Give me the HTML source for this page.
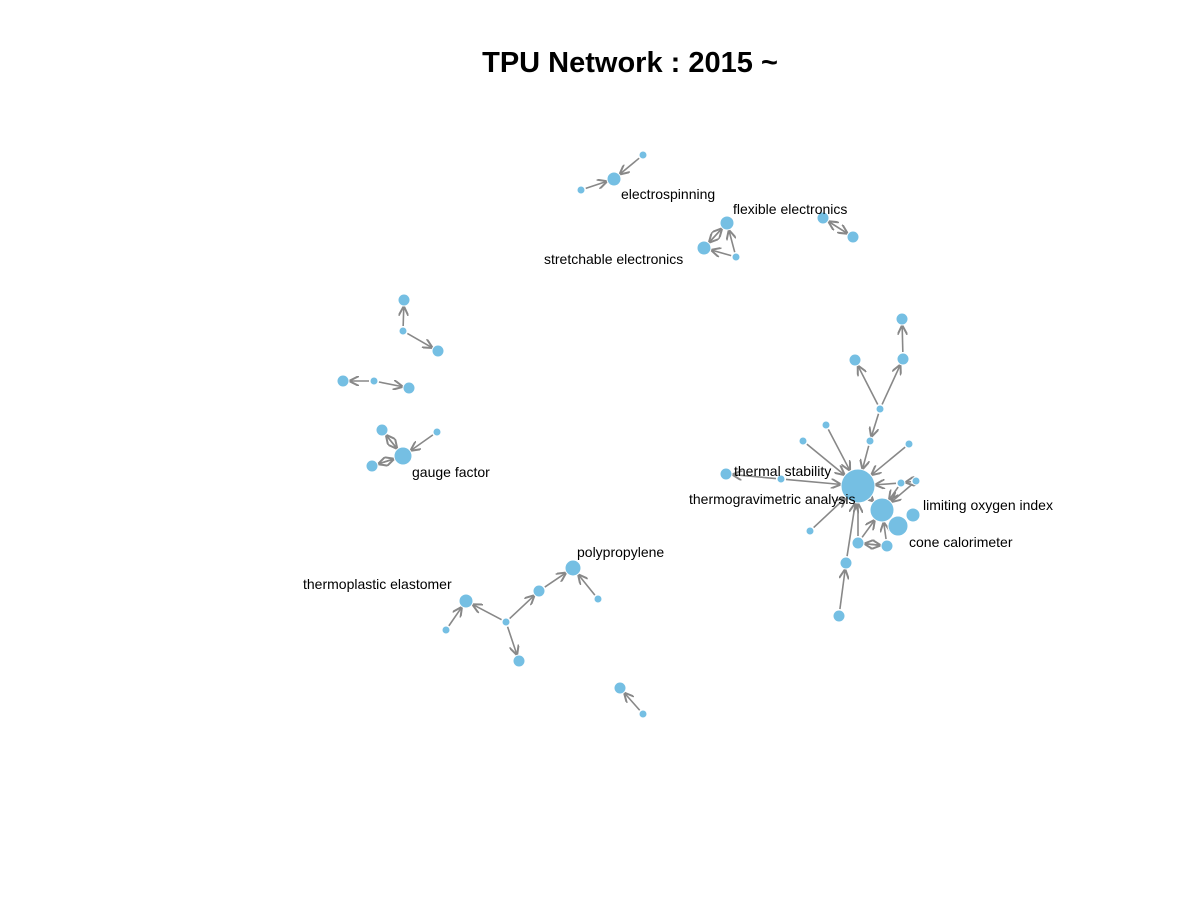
<!DOCTYPE html>
<html><head><meta charset="utf-8"><style>
body{margin:0;background:#fff;font-family:"Liberation Sans",Arial,sans-serif}
</style></head><body>
<svg id="chart" width="1200" height="900" xmlns="http://www.w3.org/2000/svg">
<text x="630" y="72" text-anchor="middle" font-size="29" font-weight="bold" font-family="Liberation Sans, sans-serif">TPU Network : 2015 ~</text>
<defs><marker id="ah" viewBox="0 0 10 10" refX="9" refY="5" markerWidth="10" markerHeight="10" orient="auto-start-reverse" markerUnits="userSpaceOnUse"><path d="M0,0 L10,5 L0,10" fill="none" stroke="#888" stroke-width="2"/></marker></defs>
<g id="edges"></g><g id="nodes"></g><g id="labels"></g>
</svg>
<script>
const nodeIds=["tga","n1","n2","n3","n4","n5","n6","n7","n8","n9","n10","n11","n12","n13","n14","n15","n16","n17","n18","n19","n20",
"es","es1","es2","flex","str","fs","p1","p2","a0","a1","a2","b0","b1","b2","gf","g1","g2","g3","pp","tpe","c0","c1","c2","c3","c4","d0","d1"];
const nodeX=[858,882,898,913,858,887,901,916,909,870,826,803,781,726,810,846,839,880,855,903,902,614,581,643,727,704,736,823,853,404,403,438,374,343,409,403,382,372,437,573,466,506,539,519,598,446,620,643];
const nodeY=[486,510,526,515,543,546,483,481,444,441,425,441,479,474,531,563,616,409,360,359,319,179,190,155,223,248,257,218,237,300,331,351,381,381,388,456,430,466,432,568,601,622,591,661,599,630,688,714];
const nodeR=[17,12,10,7,6,6,4,4,4,4,4,4,4,6,4,6,6,4,6,6,6,7,4,4,7,7,4,6,6,6,4,6,4,6,6,9,6,6,4,8,7,4,6,6,4,4,6,4];
const edgeFrom=["n17","n17","n19","n17","n9","n10","n11","n8","n12","n12","n14","n15","n16","n6","n7","n7","n6","n4","n4","n4","n5","n5","n1","tga","n2","es1","es2","fs","fs","str","flex","p1","p2","a1","a1","b0","b0","g1","gf","g2","gf","g3","c0","c0","c0","c1","c3","c4","d1"];
const edgeTo=["n18","n19","n20","n9","tga","tga","tga","tga","tga","n13","tga","tga","n15","tga","n6","n1","n1","tga","n1","n5","n4","n1","n2","n1","n1","es","es","flex","str","flex","str","p2","p1","a0","a2","b1","b2","gf","g1","gf","g2","gf","tpe","c1","c2","pp","pp","tpe","d0"];
const labelNode=["tga","n12","n3","n2","es","flex","str","gf","pp","tpe"];
const labelText=["thermogravimetric analysis","thermal stability","limiting oxygen index","cone calorimeter","electrospinning","flexible electronics","stretchable electronics","gauge factor","polypropylene","thermoplastic elastomer"];
const labelX=[689,734,923,909,621,733,544,412,577,303];
const labelY=[504,476,510,547,199,214,264,477,557,589];
const NS="http://www.w3.org/2000/svg";
const idx=id=>nodeIds.indexOf(id);
const eg=document.getElementById('edges'),ng=document.getElementById('nodes'),lg=document.getElementById('labels');
for(let k=0;k<edgeFrom.length;k++){
 const a=idx(edgeFrom[k]),b=idx(edgeTo[k]);
 const dx=nodeX[b]-nodeX[a],dy=nodeY[b]-nodeY[a],d=Math.hypot(dx,dy);
 const ux=dx/d,uy=dy/d;
 const l=document.createElementNS(NS,'line');
 
 
 l.setAttribute('x1',nodeX[a]+ux*(nodeR[a]+1));l.setAttribute('y1',nodeY[a]+uy*(nodeR[a]+1));
 l.setAttribute('x2',nodeX[b]-ux*(nodeR[b]+1));l.setAttribute('y2',nodeY[b]-uy*(nodeR[b]+1));
 l.setAttribute('stroke','#888');l.setAttribute('stroke-width','1.6');l.setAttribute('marker-end','url(#ah)');
 eg.appendChild(l);
}
for(let i=0;i<nodeIds.length;i++){
 const c=document.createElementNS(NS,'circle');
 
 
 c.setAttribute('cx',nodeX[i]);c.setAttribute('cy',nodeY[i]);c.setAttribute('r',nodeR[i]);
 c.setAttribute('fill','#75bfe3');c.setAttribute('stroke','#fff');c.setAttribute('stroke-width','1');
 ng.appendChild(c);
}
for(let i=0;i<labelText.length;i++){
 const t=document.createElementNS(NS,'text');
 
 
 t.setAttribute('x',labelX[i]);t.setAttribute('y',labelY[i]);
 t.setAttribute('font-size','14');t.setAttribute('font-family','Liberation Sans, sans-serif');
 t.textContent=labelText[i];lg.appendChild(t);
}
</script>
</body></html>
